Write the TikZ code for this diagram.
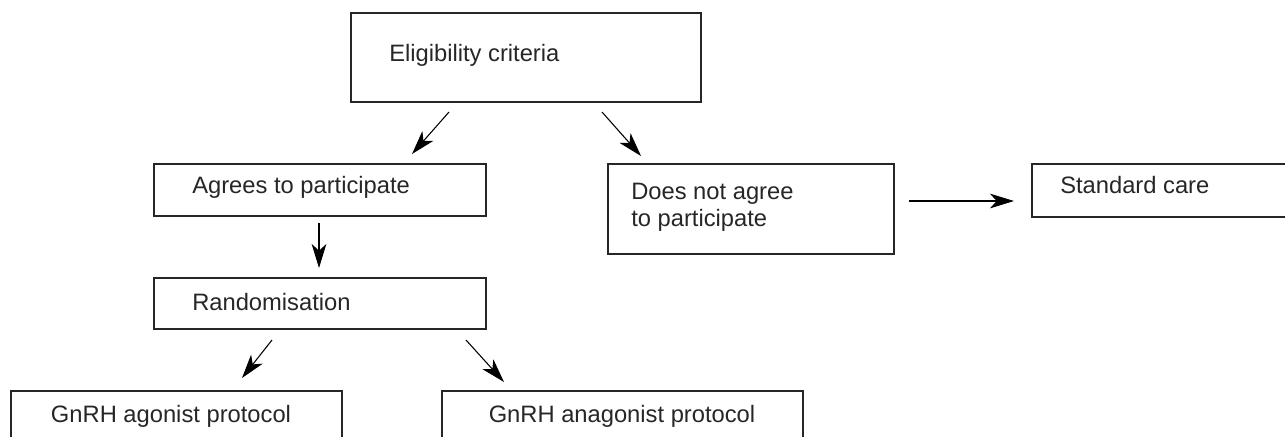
\documentclass[tikz,border=0pt]{standalone}
\usepackage{fontspec}
\setmainfont{Liberation Sans}
\usetikzlibrary{arrows.meta}
\begin{document}
\begin{tikzpicture}[x=0.75pt,y=-0.75pt,
  boxline/.style={draw=black!85,line width=1.3pt},
  lbl/.style={inner sep=0pt,anchor=west,font=\fontsize{17.8pt}{20.3pt}\selectfont,align=left,text=black!85},
  clbl/.style={inner sep=0pt,anchor=center,font=\fontsize{17.8pt}{20.3pt}\selectfont,text=black!85},
  arr/.style={draw=black,line width=0.8pt,-{Stealth[length=18pt,width=11pt,inset=5pt]}}]
\useasboundingbox (0,0) rectangle (1285,436);
\clip (0,0) rectangle (1285,436);
% boxes
\node[boxline,inner sep=0pt,minimum width=350*0.75pt,minimum height=89*0.75pt,anchor=north west] (elig) at (350,12) {};
\node[boxline,inner sep=0pt,minimum width=332*0.75pt,minimum height=52*0.75pt,anchor=north west] (agree) at (153,163) {};
\node[boxline,inner sep=0pt,minimum width=332*0.75pt,minimum height=51*0.75pt,anchor=north west] (rand) at (153,277) {};
\node[boxline,inner sep=0pt,minimum width=286*0.75pt,minimum height=90*0.75pt,anchor=north west] (noagree) at (607,163) {};
\node[boxline,inner sep=0pt,minimum width=300*0.75pt,minimum height=53*0.75pt,anchor=north west] (std) at (1031,163) {};
\node[boxline,inner sep=0pt,minimum width=331*0.75pt,minimum height=80*0.75pt,anchor=north west] (ago) at (10,390) {};
\node[boxline,inner sep=0pt,minimum width=361*0.75pt,minimum height=80*0.75pt,anchor=north west] (anta) at (441,390) {};
% labels
\node[lbl] (teli) at (389,55) {Eligibility criteria};
\node[lbl] (tagr) at (192,187) {Agrees to participate};
\node[lbl] (tran) at (192,302) {Randomisation};
\node[lbl] (tno) at (631,207) {Does not agree\\to participate};
\node[lbl] (tstd) at (1060,185) {Standard care};
\node[clbl] (tago) at (171,416) {GnRH agonist protocol};
\node[clbl] (tant) at (622,416) {GnRH anagonist protocol};
% arrow end points
\coordinate (a1s) at (449,112); \coordinate (a1e) at (412,154);
\coordinate (a2s) at (602,112); \coordinate (a2e) at (641,156);
\coordinate (a3s) at (319,223); \coordinate (a3e) at (319,268);
\coordinate (a4s) at (909,201); \coordinate (a4e) at (1014,201);
\coordinate (a5s) at (272,340); \coordinate (a5e) at (242,378);
\coordinate (a6s) at (466,340); \coordinate (a6e) at (504,382);
\draw[arr] (a1s) -- (a1e);
\draw[arr] (a2s) -- (a2e);
\draw[arr] (a3s) -- (a3e);
\draw[arr] (a4s) -- (a4e);
\draw[arr] (a5s) -- (a5e);
\draw[arr] (a6s) -- (a6e);
\end{tikzpicture}
\end{document}
